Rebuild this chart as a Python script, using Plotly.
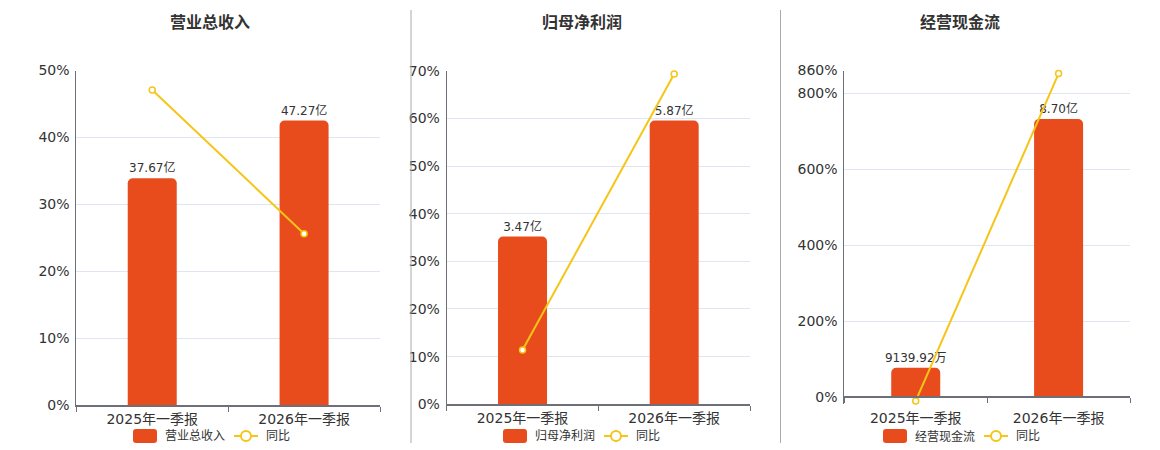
import plotly.graph_objects as go

# 页面 body 自带 8px 外边距，图整体按此偏移
OFF = 8
W, H = 1160 - OFF, 450 - OFF

# 数据
periods = ['2025年一季报', '2026年一季报']

panel_titles = ['营业总收入', '归母净利润', '经营现金流']
bar_names = ['营业总收入', '归母净利润', '经营现金流']

revenue = [37.67, 47.27]          # 亿
revenue_txt = ['37.67亿', '47.27亿']
revenue_yoy = [47.1, 25.6]         # %

profit = [3.47, 5.87]              # 亿
profit_txt = ['3.47亿', '5.87亿']
profit_yoy = [11.4, 69.3]

cashflow = [0.913992, 8.70]        # 亿
cashflow_txt = ['9139.92万', '8.70亿']
cashflow_yoy = [-10.5, 852.0]

bar_vals = [revenue, profit, cashflow]
bar_txts = [revenue_txt, profit_txt, cashflow_txt]
yoy_vals = [revenue_yoy, profit_yoy, cashflow_yoy]

pct_ticks = [[0, 10, 20, 30, 40, 50],
             [0, 10, 20, 30, 40, 50, 60, 70],
             [0, 200, 400, 600, 800, 860]]
pct_ranges = [[0, 50], [0, 70], [-18.5, 860]]
bar_ranges = [[0, 55.6], [0, 6.90], [-0.2198, 10.217]]

# 布局（窗口像素）
boxes = [(76.3, 380, 70.5, 405), (446.7, 750, 70.7, 404.3), (844.3, 1130, 70.5, 404)]
title_x = [210, 582, 960]
legend_x0 = [133, 503, 883]

BAR_COLOR = '#E84C1D'
LINE_COLOR = '#F5C518'
AXIS_COLOR = '#6E7079'
GRID_COLOR = '#E0E6F1'
TEXT_COLOR = '#333333'
FONT = 'DejaVu Sans, Noto Sans CJK SC, sans-serif'


def px(x):
    return (x - OFF) / W


def py(y):
    return (H - (y - OFF)) / H


fig = go.Figure()
layout = dict(
    width=W, height=H, autosize=False,
    margin=dict(l=0, r=0, t=0, b=0, pad=0, autoexpand=False),
    paper_bgcolor='white', plot_bgcolor='white',
    showlegend=False,
    font=dict(family=FONT, size=14, color=TEXT_COLOR),
)
shapes = []
annotations = []

for i in range(3):
    n = i + 1
    xa = 'x' if n == 1 else f'x{n}'
    ya_bar = 'y' if n == 1 else f'y{n}'
    ya_pct = f'y{n + 3}'
    x0, x1, y0, y1 = boxes[i]
    plot_w = x1 - x0
    bar_w = 49 / (plot_w / 2)

    fig.add_trace(go.Bar(
        x=periods, y=bar_vals[i], name=bar_names[i],
        xaxis=xa, yaxis=ya_bar, width=bar_w,
        marker=dict(color=BAR_COLOR, cornerradius=5, line=dict(width=0)),
        text=bar_txts[i], textposition='outside', cliponaxis=False,
        constraintext='none',
        textfont=dict(size=12, color=TEXT_COLOR),
    ))
    fig.add_trace(go.Scatter(
        x=periods, y=yoy_vals[i], name='同比',
        xaxis=xa, yaxis=ya_pct, mode='lines+markers', cliponaxis=False,
        line=dict(color=LINE_COLOR, width=2),
        marker=dict(symbol='circle', size=6, color='white',
                    line=dict(color=LINE_COLOR, width=1.5)),
    ))

    xkey = 'xaxis' if n == 1 else f'xaxis{n}'
    ykey_bar = 'yaxis' if n == 1 else f'yaxis{n}'
    ykey_pct = f'yaxis{n + 3}'

    xax = dict(
        domain=[px(x0), px(x1)], type='category', range=[-0.5, 1.5],
        showline=True, linecolor=AXIS_COLOR, linewidth=1.5,
        ticks='outside', tickson='boundaries', ticklen=5, tickcolor=AXIS_COLOR,
        showgrid=False, zeroline=False, automargin=False,
        tickfont=dict(size=14, color=TEXT_COLOR),
    )
    if i == 2:
        # 横轴画在 0 的位置
        zero_y = y1 - (0 - pct_ranges[i][0]) / (pct_ranges[i][1] - pct_ranges[i][0]) * (y1 - y0)
        xax.update(anchor='free', position=py(zero_y), ticklabelstandoff=8)
    else:
        xax.update(anchor=ya_bar)
    layout[xkey] = xax

    layout[ykey_bar] = dict(
        domain=[py(y1), py(y0)], anchor=xa, range=bar_ranges[i], automargin=False,
        showgrid=False, showticklabels=False, showline=False, zeroline=False, ticks='',
    )
    grid_vals = list(pct_ticks[i])
    if pct_ranges[i][0] < 0:
        grid_vals = [pct_ranges[i][0]] + grid_vals
    layout[ykey_pct] = dict(
        overlaying=ya_bar, anchor=xa, side='left', range=pct_ranges[i],
        tickvals=grid_vals, automargin=False,
        ticktext=['' if v < 0 else f'{v}%' for v in grid_vals],
        showgrid=True, gridcolor=GRID_COLOR, gridwidth=1,
        showline=True, linecolor=AXIS_COLOR, linewidth=1,
        zeroline=False, ticks='outside', ticklen=3, tickcolor='rgba(0,0,0,0)',
        tickfont=dict(size=14, color=TEXT_COLOR),
    )

    # 标题
    annotations.append(dict(
        text=f'<b>{panel_titles[i]}</b>', x=px(title_x[i]), y=py(23),
        xref='paper', yref='paper', showarrow=False,
        font=dict(size=16, color=TEXT_COLOR), xanchor='center', yanchor='middle',
    ))

    # 图例
    lx = legend_x0[i]
    ly = 436
    bx0, bx1, by0, by1 = lx, lx + 24, ly - 7, ly + 7
    r = 3
    path = (f'M {px(bx0 + r)},{py(by0)} L {px(bx1 - r)},{py(by0)} '
            f'Q {px(bx1)},{py(by0)} {px(bx1)},{py(by0 + r)} '
            f'L {px(bx1)},{py(by1 - r)} Q {px(bx1)},{py(by1)} {px(bx1 - r)},{py(by1)} '
            f'L {px(bx0 + r)},{py(by1)} Q {px(bx0)},{py(by1)} {px(bx0)},{py(by1 - r)} '
            f'L {px(bx0)},{py(by0 + r)} Q {px(bx0)},{py(by0)} {px(bx0 + r)},{py(by0)} Z')
    shapes.append(dict(type='path', path=path, xref='paper', yref='paper',
                       fillcolor=BAR_COLOR, line=dict(width=0)))
    annotations.append(dict(
        text=bar_names[i], x=px(lx + 30), y=py(ly), xref='paper', yref='paper',
        showarrow=False, xanchor='left', yanchor='middle',
        font=dict(size=12, color=TEXT_COLOR),
    ))
    sx = lx + 101
    shapes.append(dict(type='line', x0=px(sx), x1=px(sx + 24), y0=py(ly), y1=py(ly),
                       xref='paper', yref='paper', line=dict(color=LINE_COLOR, width=2)))
    shapes.append(dict(type='circle', x0=px(sx + 7), x1=px(sx + 17), y0=py(ly - 5), y1=py(ly + 5),
                       xref='paper', yref='paper', fillcolor='white',
                       line=dict(color=LINE_COLOR, width=2)))
    annotations.append(dict(
        text='同比', x=px(sx + 30), y=py(ly), xref='paper', yref='paper',
        showarrow=False, xanchor='left', yanchor='middle',
        font=dict(size=12, color=TEXT_COLOR),
    ))

# 分隔线
for dx in [411, 780.5]:
    shapes.append(dict(type='line', x0=px(dx), x1=px(dx), y0=py(10), y1=py(443),
                       xref='paper', yref='paper', line=dict(color='#AAAAAA', width=1)))

layout['shapes'] = shapes
layout['annotations'] = annotations
fig.update_layout(**layout)

fig.write_html("out.html")
